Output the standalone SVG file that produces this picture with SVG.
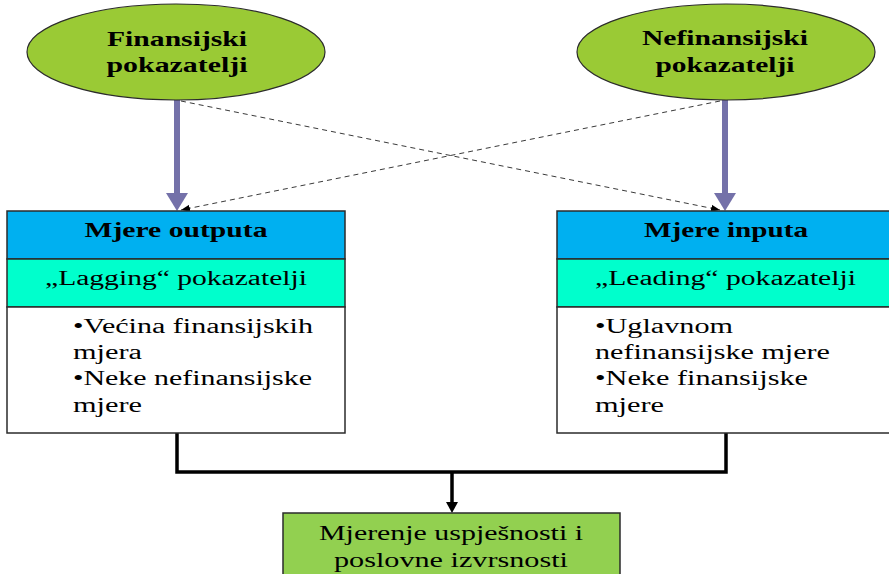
<svg xmlns="http://www.w3.org/2000/svg" width="889" height="574" viewBox="0 0 889 574">
<defs>
<style>
.ell{fill:#9ACA35;stroke:#2b2b2b;stroke-width:1.2}
.hdr{fill:#00B0F0;stroke:#2b2b2b;stroke-width:1.5}
.sub{fill:#00FFCC;stroke:#2b2b2b;stroke-width:1.5}
.body{fill:#FFFFFF;stroke:#2b2b2b;stroke-width:1.5}
.res{fill:#92D050;stroke:#2b2b2b;stroke-width:1.5}
text{font-family:"Liberation Serif","Times New Roman",serif;fill:#000}
.b{font-weight:bold;font-size:22px}
.h{font-weight:bold;font-size:21px}
.n{font-size:20px}
.thick{stroke:#7471A9;stroke-width:6;fill:none}
.dash{stroke:#3a3a3a;stroke-width:1;stroke-dasharray:5 4;fill:none}
.blk{stroke:#000;stroke-width:3.5;fill:none}
</style>
<marker id="ah" viewBox="0 0 10 10" refX="10" refY="5" markerWidth="9" markerHeight="9" markerUnits="userSpaceOnUse" orient="auto">
<path d="M0,1 L10,5 L0,9 z" fill="#000"/>
</marker>
</defs>

<g id="connectors">
<line class="thick" x1="177" y1="100" x2="177" y2="194"/>
<polygon points="166,193 188,193 177,211" fill="#7471A9"/>
<line class="thick" x1="725" y1="100" x2="725" y2="194"/>
<polygon points="714,193 736,193 725,211" fill="#7471A9"/>
<line class="dash" x1="181" y1="101" x2="720" y2="210" marker-end="url(#ah)"/>
<line class="dash" x1="720" y1="101" x2="181" y2="210" marker-end="url(#ah)"/>
<polyline class="blk" points="177,433 177,472 726,472 726,433"/>
<line stroke="#000" stroke-width="3.5" x1="452" y1="472" x2="452" y2="503"/>
<polygon points="446,502 458,502 452,513" fill="#000"/>
</g>

<g id="node-finansijski">
<ellipse class="ell" cx="176" cy="52" rx="149" ry="48"/>
<text class="b" x="177" y="46" text-anchor="middle" textLength="140" lengthAdjust="spacingAndGlyphs">Finansijski</text>
<text class="b" x="177" y="72" text-anchor="middle" textLength="141" lengthAdjust="spacingAndGlyphs">pokazatelji</text>
</g>

<g id="node-nefinansijski">
<ellipse class="ell" cx="726" cy="52" rx="149" ry="48"/>
<text class="b" x="725" y="45" text-anchor="middle" textLength="166" lengthAdjust="spacingAndGlyphs">Nefinansijski</text>
<text class="b" x="725" y="72" text-anchor="middle" textLength="139" lengthAdjust="spacingAndGlyphs">pokazatelji</text>
</g>

<g id="node-output">
<rect class="hdr" x="7" y="211" width="338" height="48"/>
<rect class="sub" x="7" y="259" width="338" height="48"/>
<rect class="body" x="7" y="307" width="338" height="126"/>
<text class="h" x="176" y="237" text-anchor="middle" textLength="183" lengthAdjust="spacingAndGlyphs">Mjere outputa</text>
<text class="n" x="176" y="285" text-anchor="middle" textLength="262" lengthAdjust="spacingAndGlyphs">„Lagging“ pokazatelji</text>
<text class="n" x="73" y="333" textLength="240" lengthAdjust="spacingAndGlyphs">•Većina finansijskih</text>
<text class="n" x="73" y="359" textLength="69" lengthAdjust="spacingAndGlyphs">mjera</text>
<text class="n" x="73" y="385" textLength="239" lengthAdjust="spacingAndGlyphs">•Neke nefinansijske</text>
<text class="n" x="73" y="412" textLength="69" lengthAdjust="spacingAndGlyphs">mjere</text>
</g>

<g id="node-input">
<rect class="hdr" x="557" y="211" width="340" height="48"/>
<rect class="sub" x="557" y="259" width="340" height="48"/>
<rect class="body" x="557" y="307" width="340" height="126"/>
<text class="h" x="726" y="237" text-anchor="middle" textLength="164" lengthAdjust="spacingAndGlyphs">Mjere inputa</text>
<text class="n" x="725.5" y="285" text-anchor="middle" textLength="261" lengthAdjust="spacingAndGlyphs">„Leading“ pokazatelji</text>
<text class="n" x="595" y="333" textLength="138" lengthAdjust="spacingAndGlyphs">•Uglavnom</text>
<text class="n" x="595" y="359" textLength="235" lengthAdjust="spacingAndGlyphs">nefinansijske mjere</text>
<text class="n" x="595" y="385" textLength="213" lengthAdjust="spacingAndGlyphs">•Neke finansijske</text>
<text class="n" x="595" y="412" textLength="69" lengthAdjust="spacingAndGlyphs">mjere</text>
</g>

<g id="node-result">
<rect class="res" x="283" y="513" width="337" height="70"/>
<text class="n" x="451" y="540" text-anchor="middle" textLength="264" lengthAdjust="spacingAndGlyphs" style="font-size:21px">Mjerenje uspješnosti i</text>
<text class="n" x="451" y="567" text-anchor="middle" textLength="234" lengthAdjust="spacingAndGlyphs" style="font-size:21px">poslovne izvrsnosti</text>
</g>
</svg>
